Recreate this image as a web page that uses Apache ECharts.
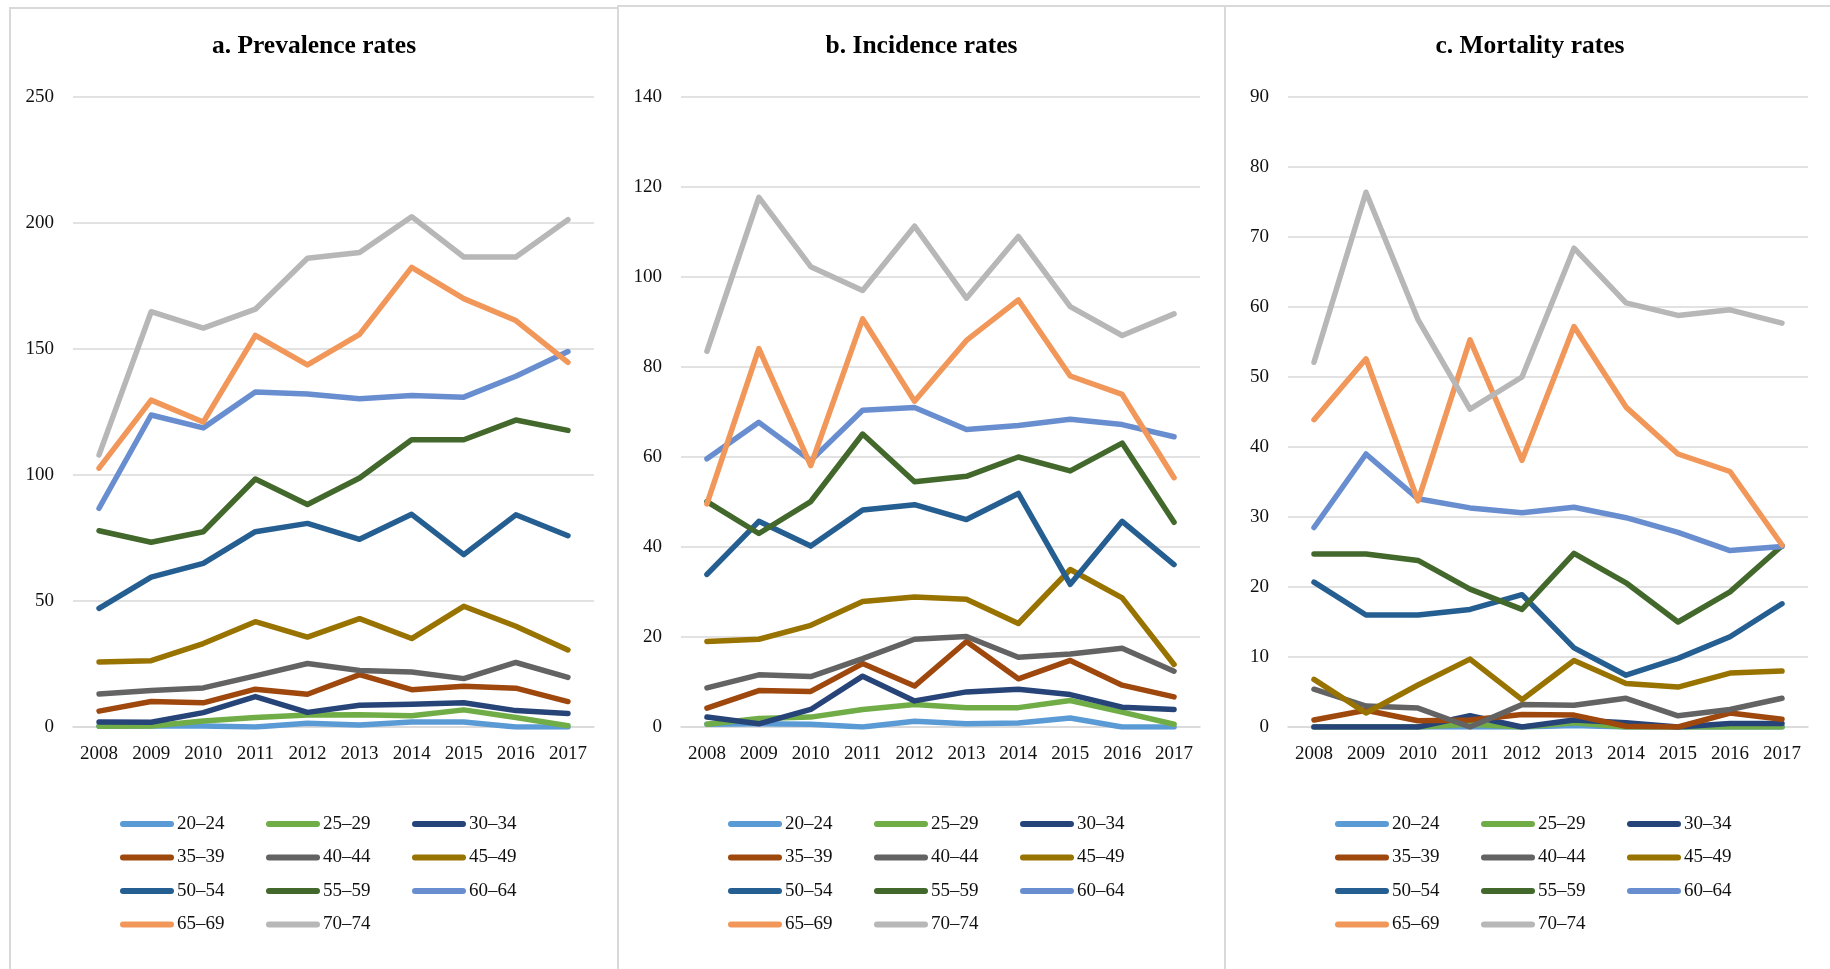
<!DOCTYPE html>
<html>
<head>
<meta charset="utf-8">
<script src="https://cdn.jsdelivr.net/npm/echarts@6/dist/echarts.min.js"></script>
<style>
  html, body { margin: 0; padding: 0; background: #fff; }
  #chart { width: 1830px; height: 969px; }
</style>
</head>
<body>
<div id="chart"></div>
<script>
const years = ['2008', '2009', '2010', '2011', '2012', '2013', '2014', '2015', '2016', '2017']
const ageGroups = ['20–24', '25–29', '30–34', '35–39', '40–44', '45–49', '50–54', '55–59', '60–64', '65–69', '70–74']
const colors = ['#5B9BD5', '#70AD47', '#264478', '#9E480E', '#636363', '#997300', '#255E91', '#43682B', '#698ED0', '#F1975A', '#B7B7B7']

// one row per age group, same order as ageGroups
const prevalence = [
    [0.3, 0.4, 0.4, 0, 1.5, 0.8, 2, 2, 0, 0],
    [0.3, 0.4, 2.4, 3.8, 4.8, 4.9, 4.5, 6.8, 3.8, 0.5],
    [2, 1.9, 5.7, 12.1, 5.8, 8.6, 9, 9.6, 6.5, 5.4],
    [6.3, 10.1, 9.6, 15, 13, 20.8, 14.8, 16.2, 15.4, 10.1],
    [13.1, 14.5, 15.5, 20.3, 25.2, 22.4, 21.8, 19.2, 25.6, 19.7],
    [25.8, 26.3, 33.1, 41.8, 35.7, 43, 35.1, 47.9, 40, 30.6],
    [47.1, 59.5, 64.9, 77.5, 80.8, 74.5, 84.4, 68.4, 84.2, 75.9],
    [77.9, 73.3, 77.5, 98.4, 88.3, 98.8, 114, 114, 121.8, 117.7],
    [86.8, 123.8, 118.7, 132.9, 132.1, 130.3, 131.5, 130.9, 139.2, 149],
    [102.7, 129.7, 121, 155.4, 143.7, 155.8, 182.4, 170, 161.3, 144.7],
    [108, 164.8, 158.3, 165.8, 186, 188.3, 202.5, 186.5, 186.5, 201.3]
]

const incidence = [
    [0.6, 0.7, 0.6, 0, 1.3, 0.7, 0.9, 2, 0, 0],
    [0.6, 1.9, 2.2, 3.9, 5, 4.3, 4.3, 5.9, 3.3, 0.6],
    [2.2, 0.7, 3.9, 11.3, 5.8, 7.8, 8.4, 7.2, 4.4, 3.9],
    [4.2, 8.1, 7.9, 14.1, 9.1, 19, 10.7, 14.8, 9.3, 6.7],
    [8.7, 11.6, 11.2, 15.2, 19.5, 20.1, 15.5, 16.2, 17.5, 12.4],
    [19, 19.5, 22.6, 27.9, 28.9, 28.4, 23, 35, 28.7, 13.9],
    [33.9, 45.7, 40.2, 48.2, 49.4, 46.1, 51.9, 31.7, 45.7, 36.1],
    [50.1, 43, 50.1, 65.1, 54.5, 55.7, 60, 56.9, 63.1, 45.5],
    [59.6, 67.7, 59.2, 70.4, 71, 66.1, 67, 68.4, 67.2, 64.5],
    [49.6, 84.1, 58.1, 90.7, 72.4, 85.9, 94.9, 78, 73.9, 55.4],
    [83.5, 117.7, 102.3, 97, 111.3, 95.3, 109, 93.4, 87, 91.8]
]

const mortality = [
    [0, 0, 0, 0, 0, 0.2, 0, 0, 0, 0],
    [0, 0, 0, 0.4, 0, 0.6, 0, 0, 0, 0],
    [0, 0, 0, 1.6, 0, 1, 0.6, 0, 0.5, 0.5],
    [1, 2.4, 0.9, 1, 1.8, 1.7, 0.1, 0, 2, 1.1],
    [5.4, 3, 2.7, 0, 3.2, 3.1, 4.1, 1.6, 2.5, 4.1],
    [6.8, 2, 6, 9.7, 3.9, 9.5, 6.2, 5.7, 7.7, 8],
    [20.7, 16, 16, 16.8, 18.9, 11.3, 7.4, 9.8, 12.9, 17.6],
    [24.7, 24.7, 23.8, 19.7, 16.8, 24.8, 20.6, 15, 19.3, 25.9],
    [28.5, 39, 32.6, 31.3, 30.6, 31.4, 29.9, 27.8, 25.2, 25.8],
    [43.9, 52.6, 32.3, 55.3, 38.1, 57.2, 45.7, 39, 36.5, 26],
    [52.1, 76.4, 58.2, 45.4, 50, 68.4, 60.6, 58.8, 59.6, 57.7]
]

const panelTitles = ['a. Prevalence rates', 'b. Incidence rates', 'c. Mortality rates']
const yMax = [250, 140, 90]
const yStep = [50, 20, 10]

const fontFamily = "'Liberation Serif', 'Times New Roman', serif"
const gridColor = '#D9D9D9'
// capsule shaped legend line with round ends
const legendIcon = 'path://M3,0 H51 A3,3 0 0 1 51,6 H3 A3,3 0 0 1 3,0 Z'

// panel frames and plot areas, in page pixels
const panels = [
    { x: 10, w: 608, top: 8, gridLeft: 73, gridWidth: 521 },
    { x: 618, w: 607, top: 6, gridLeft: 681, gridWidth: 519 },
    { x: 1225, w: 610, top: 6, gridLeft: 1288, gridWidth: 520 }
]
const allData = [prevalence, incidence, mortality]

const chart = echarts.init(document.getElementById('chart'))

const grid = []
const xAxis = []
const yAxis = []
const title = []
const legend = []
const series = []
const graphic = []

panels.forEach((p, pi) => {
    graphic.push({
        type: 'rect',
        shape: { x: p.x, y: p.top, width: p.w, height: 1000 },
        style: { fill: 'none', stroke: gridColor, lineWidth: 2 },
        silent: true
    })

    title.push({
        text: panelTitles[pi],
        left: p.x + p.w / 2,
        textAlign: 'center',
        top: 33,
        padding: 0,
        textStyle: { fontFamily, fontSize: 25.5, fontWeight: 'bold', color: '#000' }
    })

    grid.push({ left: p.gridLeft, width: p.gridWidth, top: 97, height: 630 })

    xAxis.push({
        type: 'category',
        gridIndex: pi,
        data: years,
        boundaryGap: true,
        axisLine: { lineStyle: { color: gridColor, width: 1.5 } },
        axisTick: { show: false },
        axisLabel: { fontFamily, fontSize: 19, color: '#111', margin: 18 }
    })

    yAxis.push({
        type: 'value',
        gridIndex: pi,
        min: 0,
        max: yMax[pi],
        interval: yStep[pi],
        axisLine: { show: false },
        axisTick: { show: false },
        axisLabel: { fontFamily, fontSize: 19, color: '#111', margin: 19 },
        splitLine: { lineStyle: { color: gridColor, width: 1.5 } }
    })

    // legend in three columns, four rows
    for (let c = 0; c < 3; c++) {
        legend.push({
            orient: 'vertical',
            left: p.gridLeft + 47 + c * 146,
            top: 814,
            padding: 0,
            itemGap: 13.5,
            itemWidth: 54,
            itemHeight: 6,
            icon: legendIcon,
            selectedMode: false,
            data: ageGroups.filter((g, i) => i % 3 === c),
            textStyle: { fontFamily, fontSize: 19, color: '#111', lineHeight: 20, padding: [0, 0, 0, -2] }
        })
    }

    allData[pi].forEach((values, i) => {
        series.push({
            type: 'line',
            name: ageGroups[i],
            xAxisIndex: pi,
            yAxisIndex: pi,
            data: values,
            symbol: 'none',
            color: colors[i],
            lineStyle: { width: 5.5, color: colors[i], cap: 'round', join: 'round' },
            silent: true
        })
    })
})

chart.setOption({
    animation: false,
    color: colors,
    title,
    grid,
    xAxis,
    yAxis,
    legend,
    graphic,
    series
})
</script>
</body>
</html>
